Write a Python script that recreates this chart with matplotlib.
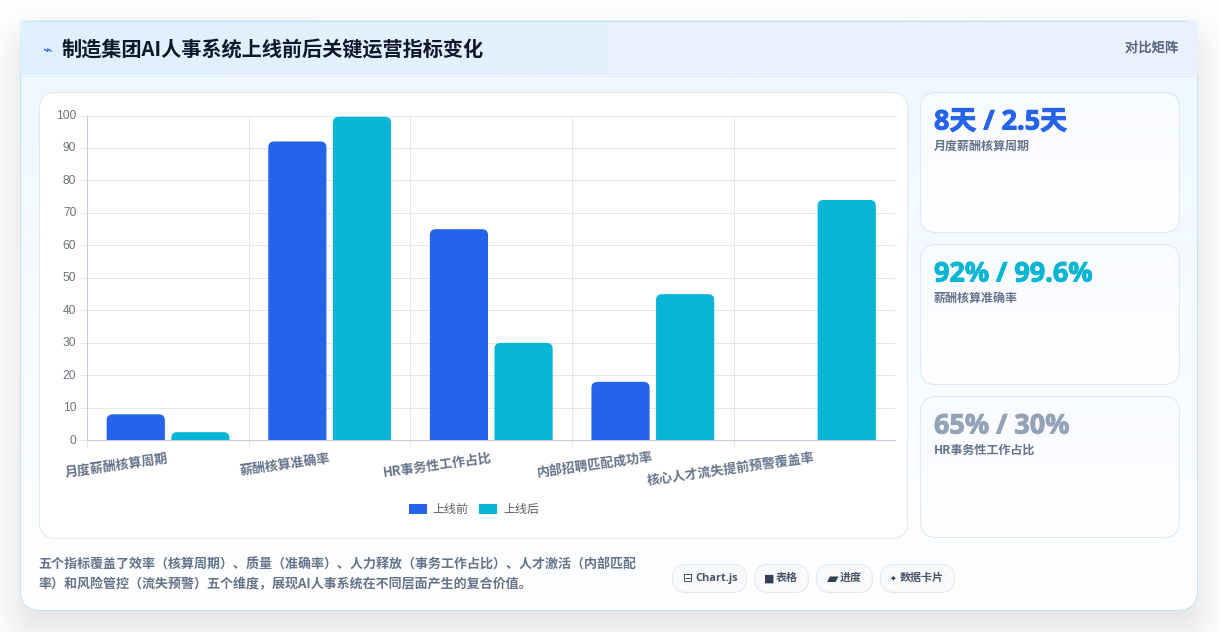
import numpy as np
from matplotlib import pyplot as plt
from matplotlib import patheffects
from matplotlib.colors import to_rgb
from matplotlib.patches import FancyBboxPatch, PathPatch, Patch
from matplotlib.path import Path
from matplotlib.transforms import ScaledTranslation

plt.rcParams['font.family'] = ['Noto Sans CJK SC', 'DejaVu Sans']

title = '制造集团AI人事系统上线前后关键运营指标变化'
categories = ['月度薪酬核算周期', '薪酬核算准确率', 'HR事务性工作占比', '内部招聘匹配成功率', '核心人才流失提前预警覆盖率']
before = [8, 92, 65, 18, 0]
after = [2.5, 99.6, 30, 45, 74]
series_names = ['上线前', '上线后']
y_ticks = list(range(0, 101, 10))

card_values = ['8天 / 2.5天', '92% / 99.6%', '65% / 30%']
card_labels = ['月度薪酬核算周期', '薪酬核算准确率', 'HR事务性工作占比']
card_colors = ['#2563eb', '#06b6d4', '#94a3b8']

footer_lines = ['五个指标覆盖了效率（核算周期）、质量（准确率）、人力释放（事务工作占比）、人才激活（内部匹配',
                '率）和风险管控（流失预警）五个维度，展现AI人事系统在不同层面产生的复合价值。']
pill_icons = ['⊟', '■', '▰', '✦']
pill_texts = ['Chart.js', '表格', '进度', '数据卡片']

W, H = 1219, 632
BLUE = '#2563eb'
CYAN = '#06b6d4'
GRID = '#e2e8f0'
AXIS = '#c3cbd9'
HAIR = 0.72


def px(size):
    # css pixels to points at 100 dpi
    return size * 0.72


def round_box(x, y, w, h, r, **kw):
    return FancyBboxPatch((x, y), w, h, boxstyle=f'round,pad=0,rounding_size={r}', **kw)


def gradient(ax, box, c0, c1, clip, horizontal=False):
    # two colour fill clipped to a patch
    t = np.linspace(0, 1, 256)[:, None]
    img = (1 - t) * np.array(to_rgb(c0)) + t * np.array(to_rgb(c1))
    img = img[:, None, :]
    if horizontal:
        img = img.transpose(1, 0, 2)
    x, y, w, h = box
    im = ax.imshow(img, extent=(x, x + w, y + h, y), aspect='auto', zorder=clip.get_zorder(), interpolation='bilinear')
    im.set_clip_path(clip)


def shadow(ax, x, y, w, h, r, dy, sigma, strength):
    xx, yy = np.meshgrid(np.arange(W) + 0.5, np.arange(H) + 0.5)
    qx = np.abs(xx - (x + w / 2)) - (w / 2 - r)
    qy = np.abs(yy - (y + dy + h / 2)) - (h / 2 - r)
    dist = np.hypot(np.maximum(qx, 0), np.maximum(qy, 0)) + np.minimum(np.maximum(qx, qy), 0) - r
    alpha = strength * 0.5 * (1 - np.tanh(dist / (sigma * 1.25)))
    rgba = np.zeros((H, W, 4))
    rgba[..., 3] = alpha
    ax.imshow(rgba, extent=(0, W, H, 0), aspect='auto', zorder=0.5)


fig = plt.figure(figsize=(W / 100, H / 100), dpi=100, facecolor='white')

# page layer in pixel coordinates
bg = fig.add_axes([0, 0, 1, 1], zorder=0)
bg.set_xlim(0, W)
bg.set_ylim(H, 0)
bg.axis('off')

shadow(bg, 20, 20, 1178, 591, 20, 18, 22, 0.13)

outer = round_box(20.5, 20.5, 1177, 590, 20, fc='white', ec='none', zorder=1)
bg.add_patch(outer)
gradient(bg, (20.5, 76, 1177, 535), '#eff8ff', '#ffffff', outer)
bg.add_patch(round_box(20.5, 20.5, 1177, 590, 20, fc='none', ec='#c4e2f6', lw=HAIR, zorder=1.5))
header = round_box(20.5, 20.5, 1177, 55, 3, fc='#e0f2fe', ec='none', zorder=2)
bg.add_patch(header)
gradient(bg, (20.5, 20.5, 1177, 55), '#e0f0fe', '#ecf1fe', header, horizontal=True)
bg.plot([20.5, 1197.5], [76, 76], color='#dceafa', lw=HAIR, zorder=3)
bg.plot([24, 1186], [20.5, 20.5], color='#c4e2f6', lw=HAIR, zorder=3)

bg.text(46.5, 50.5, '⌁', color=BLUE, fontsize=px(16), ha='center', va='center', family='DejaVu Sans', zorder=4)
bg.text(62, 49.5, title, color='#0f172a', fontsize=px(20.2), fontweight='bold', ha='left', va='center', zorder=4)
tag = bg.text(1178, 48, '对比矩阵', color='#56667d', fontsize=px(13.3), ha='right', va='center', zorder=4)
tag.set_path_effects([patheffects.withStroke(linewidth=0.25, foreground='#56667d')])

# chart panel
bg.add_patch(round_box(39.5, 92.5, 868, 446, 16, fc='white', ec='#e1e9f2', lw=HAIR, zorder=4))

# metric cards
card_tops = [93, 245, 397]
card_heights = [140, 140, 141]
for i in range(3):
    card = round_box(920.5, card_tops[i] - 0.5, 259, card_heights[i], 16, fc='white', ec='none', zorder=4)
    bg.add_patch(card)
    gradient(bg, (920.5, card_tops[i], 259, card_heights[i]), '#f8fbff', '#ffffff', card)
    bg.add_patch(round_box(920.5, card_tops[i] - 0.5, 259, card_heights[i], 16, fc='none', ec='#dbe8f7', lw=HAIR, zorder=5))
    value = bg.text(934, card_tops[i] + 29.5, card_values[i], color=card_colors[i], fontsize=px(27), fontweight='bold',
                    family=['Open Sans', 'Noto Sans CJK SC'], ha='left', va='center', zorder=6)
    value.set_path_effects([patheffects.withStroke(linewidth=0.7, foreground=card_colors[i])])
    bg.text(934, card_tops[i] + 53.5, card_labels[i], color='#64748b', fontsize=px(12), fontweight='bold',
            ha='left', va='center', zorder=6)

# footer note and pills
for i, line in enumerate(footer_lines):
    bg.text(38.5, 564.5 + i * 20, line, color='#64748b', fontsize=px(13), fontweight='bold',
            ha='left', va='center', zorder=4)

pill_lefts = [672, 754, 816, 880]
pill_rights = [746, 808, 872, 954]
icon_x = [687.5, 769, 833, 893.5]
icon_sizes = [12, 11, 15, 8]
text_x = [695, 776, 840, 900]
for i in range(4):
    bg.add_patch(round_box(pill_lefts[i] + 0.5, 564.5, pill_rights[i] - pill_lefts[i], 28, 14,
                           fc='#f8fafc', ec='#e2e8f0', lw=HAIR, zorder=4))
    bg.text(icon_x[i], 578.5, pill_icons[i], color='#334155', fontsize=px(icon_sizes[i]), family='DejaVu Sans',
            ha='center', va='center', zorder=5)
    bg.text(text_x[i], 578.5, pill_texts[i], color='#475569', fontsize=px(11), fontweight='bold',
            family=['Open Sans', 'Noto Sans CJK SC'], ha='left', va='center', zorder=5)

# bar chart
left, right, top, bottom = 87.3, 895.2, 115.5, 440.3
ax = fig.add_axes([left / W, 1 - bottom / H, (right - left) / W, (bottom - top) / H], zorder=1)
ax.patch.set_alpha(0)
ax.set_xlim(-0.5, 4.5)
ax.set_ylim(0, 100)

x = np.arange(len(categories))
bar_w = 0.36
rx = 6 / ((right - left) / 5)
ry = 6 / ((bottom - top) / 100)


def rounded_bars(xs, values, color):
    # bars with only the top corners rounded, built from the rectangles ax.bar makes
    for rect in ax.bar(xs, values, bar_w, color=color, zorder=3):
        x0, w, h = rect.get_x(), rect.get_width(), rect.get_height()
        rect.remove()
        if h <= 0:
            continue
        r_y = min(ry, h)
        verts = [(x0, 0), (x0, h - r_y), (x0, h), (x0 + rx, h), (x0 + w - rx, h), (x0 + w, h), (x0 + w, h - r_y), (x0 + w, 0), (x0, 0)]
        codes = [Path.MOVETO, Path.LINETO, Path.CURVE3, Path.CURVE3, Path.LINETO, Path.CURVE3, Path.CURVE3, Path.LINETO, Path.CLOSEPOLY]
        ax.add_patch(PathPatch(Path(verts, codes), fc=color, ec='none', zorder=3))


rounded_bars(x - 0.2, before, BLUE)
rounded_bars(x + 0.2, after, CYAN)

ax.set_yticks(y_ticks)
ax.set_xticks(x)
ax.set_xticks(x - 0.5, minor=True)
ax.set_xticklabels(categories, rotation=8, ha='right', va='center', rotation_mode='anchor',
                   fontsize=px(13), fontweight='bold', color='#64748b')
ax.tick_params(axis='x', which='major', length=0, pad=px(17.5))
ax.tick_params(axis='x', which='minor', length=px(7), width=HAIR, color=GRID)
ax.tick_params(axis='y', length=px(7), width=HAIR, color=GRID, pad=px(4))
lift = ScaledTranslation(0, 1 / 100, fig.dpi_scale_trans)
for label in ax.get_yticklabels():
    label.set_family('Liberation Sans')
    label.set_fontsize(px(12))
    label.set_color('#6b7280')
    label.set_transform(label.get_transform() + lift)
ax.grid(True, axis='y', color=GRID, lw=HAIR, zorder=1)
ax.grid(True, axis='x', which='minor', color=GRID, lw=HAIR, zorder=1)
ax.set_axisbelow(True)
for side in ['top', 'right']:
    ax.spines[side].set_visible(False)
for side in ['left', 'bottom']:
    ax.spines[side].set_color(AXIS)
    ax.spines[side].set_linewidth(HAIR)
    ax.spines[side].set_zorder(2)

handles = [Patch(fc=BLUE, ec='none'), Patch(fc=CYAN, ec='none')]
ax.legend(handles, series_names, loc='center', bbox_to_anchor=(474 / W, 1 - 509.5 / H), bbox_transform=fig.transFigure,
          ncol=2, frameon=False, prop={'family': ['Noto Sans CJK SC'], 'size': px(12), 'weight': 'medium'}, labelcolor='#5f5f5f',
          handlelength=18 / 12, handleheight=1.0, handletextpad=0.5, columnspacing=0.9, borderpad=0, borderaxespad=0)

fig.savefig('out.png', dpi=100)
